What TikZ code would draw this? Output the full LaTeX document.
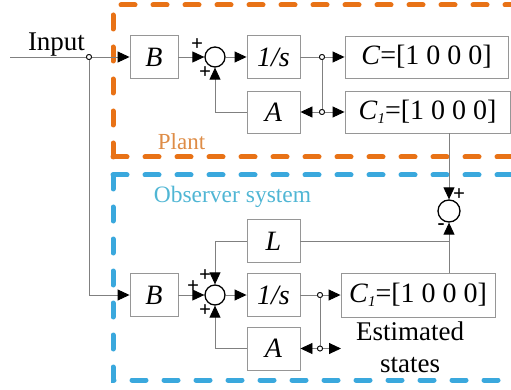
\documentclass[tikz,border=0pt]{standalone}
\usepackage{fontspec}
\setmainfont{Liberation Serif}[Ligatures=TeX]
\usetikzlibrary{arrows.meta}
\definecolor{plantc}{RGB}{232,114,22}
\definecolor{obsc}{RGB}{58,168,221}
\definecolor{plantt}{RGB}{222,140,70}
\definecolor{obst}{RGB}{80,182,212}
\definecolor{wirec}{RGB}{128,128,128}
\definecolor{boxc}{RGB}{150,150,150}
\newcommand{\row}{[1 0 0 0]}
\newcommand{\clsub}{\textit{C}\raisebox{-0.12em}{\fontsize{15}{15}\selectfont\textit{1}}}
\begin{document}
\begin{tikzpicture}[x=1pt,y=-1pt,
  txt/.style={font=\rmfamily\fontsize{28}{30}\selectfont},
  blk/.style={draw=boxc, line width=0.9pt, inner sep=0pt, txt},
  sumc/.style={circle, draw=black, line width=1.3pt, minimum size=20pt, inner sep=0pt, fill=white},
  jdot/.style={circle, draw=black, fill=white, line width=0.8pt, minimum size=5pt, inner sep=0pt},
  wire/.style={draw=wirec, line width=0.9pt},
  sig/.style={wire, -{Triangle[length=12pt,width=11pt,black]}},
  lbl/.style={font=\rmfamily\fontsize{27}{30}\selectfont, inner sep=0pt},
  sgn/.style={font=\rmfamily\fontsize{21}{21}\selectfont\bfseries, inner sep=0pt},
  region/.style={line width=5pt, line cap=round, dash pattern=on 14pt off 18pt}
]
\useasboundingbox (0,0) rectangle (511,390);
\clip (0,0) rectangle (511,390);

% dashed subsystem frames
\draw[region, plantc] (113,157) -- (113,5) -- (540,5);
\draw[region, plantc] (113,157) -- (540,157);
\draw[region, obsc] (113,175) -- (113,380) -- (540,380);
\draw[region, obsc] (113,175) -- (540,175);

% plant blocks
\node[blk, minimum width=48pt, minimum height=43pt] (Bp) at (154,57) {\textit{B}};
\node[sumc] (Sp) at (215,57) {};
\node[blk, minimum width=53pt, minimum height=43pt] (Ip) at (273.5,57) {\textit{1/s}};
\node[blk, minimum width=163pt, minimum height=42pt] (Cp) at (426.5,57) {\textit{C}=\row};
\node[blk, minimum width=53pt, minimum height=42pt] (Ap) at (273.5,112) {\textit{A}};
\node[blk, minimum width=165pt, minimum height=42pt] (Clp) at (427.5,112) {\clsub=\row};

% observer blocks
\node[blk, minimum width=53pt, minimum height=43pt] (L) at (273.5,241) {\textit{L}};
\node[blk, minimum width=48pt, minimum height=43pt] (Bo) at (154,295) {\textit{B}};
\node[sumc] (So) at (215,295) {};
\node[blk, minimum width=53pt, minimum height=43pt] (Io) at (273.5,295) {\textit{1/s}};
\node[blk, minimum width=154pt, minimum height=44pt] (Clo) at (418,295) {\clsub=\row};
\node[blk, minimum width=53pt, minimum height=43pt] (Ao) at (273.5,348.5) {\textit{A}};
\node[sumc, minimum size=22pt] (Sd) at (449,211) {};

% branch points
\node[jdot] (j0) at (89,57) {};
\node[jdot] (j1) at (322,57) {};
\node[jdot] (j2) at (322,112) {};
\node[jdot] (j3) at (320,295) {};
\node[jdot] (j4) at (320,348.5) {};
\coordinate (in) at (10,57);
\coordinate (est) at (341,348.5);

% plant signal flow
\draw[wire] (in) -- (j0);
\draw[sig] (j0) -- (Bp);
\draw[sig] (j0) |- (Bo.west);
\draw[sig] (Bp) -- (Sp);
\draw[sig] (Sp) -- (Ip);
\draw[wire] (Ip) -- (j1);
\draw[sig] (j1) -- (Cp);
\draw[wire] (j1) -- (j2);
\draw[sig] (j2) -- (Ap);
\draw[sig] (j2) -- (Clp);
\draw[sig] (Ap.west) -| (Sp.south);

% output error
\draw[sig] (Sd |- Clp.south) -- (Sd);
\draw[sig] (Sd |- Clo.north) -- (Sd);
\draw[wire] (L.east) -- (L.east -| Sd);

% observer signal flow
\draw[sig] (L.west) -| (So.north);
\draw[sig] (Bo) -- (So);
\draw[sig] (So) -- (Io);
\draw[wire] (Io) -- (j3);
\draw[sig] (j3) -- (Clo);
\draw[wire] (j3) -- (j4);
\draw[sig] (j4) -- (Ao);
\draw[sig] (j4) -- (est);
\draw[sig] (Ao.west) -| (So.south);

% redraw branch points above the wires
\foreach \j in {j0,j1,j2,j3,j4} \node[jdot] at (\j) {};

% signs
\node[sgn] (s1) at (197,45) {+};
\node[sgn] (s2) at (205,73) {+};
\node[sgn] (s3) at (193,287) {+};
\node[sgn] (s4) at (205,276) {+};
\node[sgn] (s5) at (205,311) {+};
\node[sgn] (s6) at (459,195) {+};
\node[sgn] (s7) at (441,227) {-};

% labels
\node[lbl, anchor=base] (inp) at (56.5,51) {Input};
\node[font=\rmfamily\fontsize{23}{23}\selectfont, text=plantt, inner sep=0pt, anchor=base] (plant) at (181.5,150) {Plant};
\node[font=\rmfamily\fontsize{23.5}{24}\selectfont, text=obst, inner sep=0pt, anchor=base] (obs) at (232.5,202) {Observer system};
\node[lbl, anchor=base] (est1) at (410,340) {Estimated};
\node[lbl, anchor=base] (est2) at (410,372) {states};
\end{tikzpicture}
\end{document}
